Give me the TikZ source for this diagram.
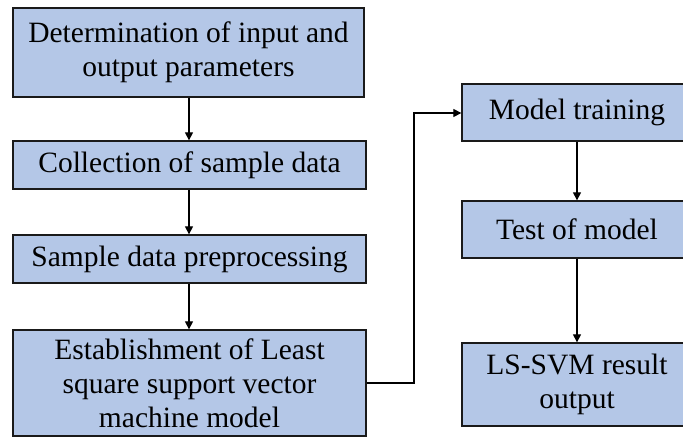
\documentclass[tikz,border=0pt]{standalone}
\usepackage{fontspec}
\setmainfont{Liberation Serif}
\usetikzlibrary{arrows.meta}
\definecolor{boxfill}{HTML}{B4C7E7}
\definecolor{boxline}{HTML}{1A1A1A}
\begin{document}
\begin{tikzpicture}[x=1pt,y=-1pt,
  box/.style={draw=boxline,fill=boxfill,line width=1.3pt,inner sep=0pt,
    align=center,font=\fontsize{29.5}{34}\selectfont},
  arr/.style={-{Triangle[width=8pt,length=8pt]},line width=1.2pt,draw=black}]
\clip (0,0) rectangle (683,439);
\node[box,minimum width=351pt,minimum height=89pt] (b1) at (188.5,52.5) {Determination of input and\\output parameters};
\node[box,minimum width=353pt,minimum height=48pt] (b2) at (189.5,165) {Collection of sample data};
\node[box,minimum width=353pt,minimum height=48pt] (b3) at (189.5,259) {Sample data preprocessing};
\node[box,minimum width=353pt,minimum height=106pt] (b4) at (189.5,383) {Establishment of Least\\square support vector\\machine model};
\node[box,minimum width=230pt,minimum height=57pt] (r1) at (577,112.5) {Model training};
\node[box,minimum width=230pt,minimum height=57pt] (r2) at (577,229.5) {Test of model};
\node[box,minimum width=230pt,minimum height=83pt] (r3) at (577,384.5) {LS-SVM result\\output};
\draw[arr] (b1.south -| 189,0) -- (b2.north -| 189,0);
\draw[arr] (b2.south -| 189,0) -- (b3.north -| 189,0);
\draw[arr] (b3.south -| 189,0) -- (b4.north -| 189,0);
\coordinate (k1) at (414,383);
\coordinate (k2) at (414,113);
\draw[arr] (b4.east |- k1) -- (k1) -- (k2) -- (r1.west |- k2);
\draw[arr] (r1.south) -- (r2.north);
\draw[arr] (r2.south) -- (r3.north);
\end{tikzpicture}
\end{document}
